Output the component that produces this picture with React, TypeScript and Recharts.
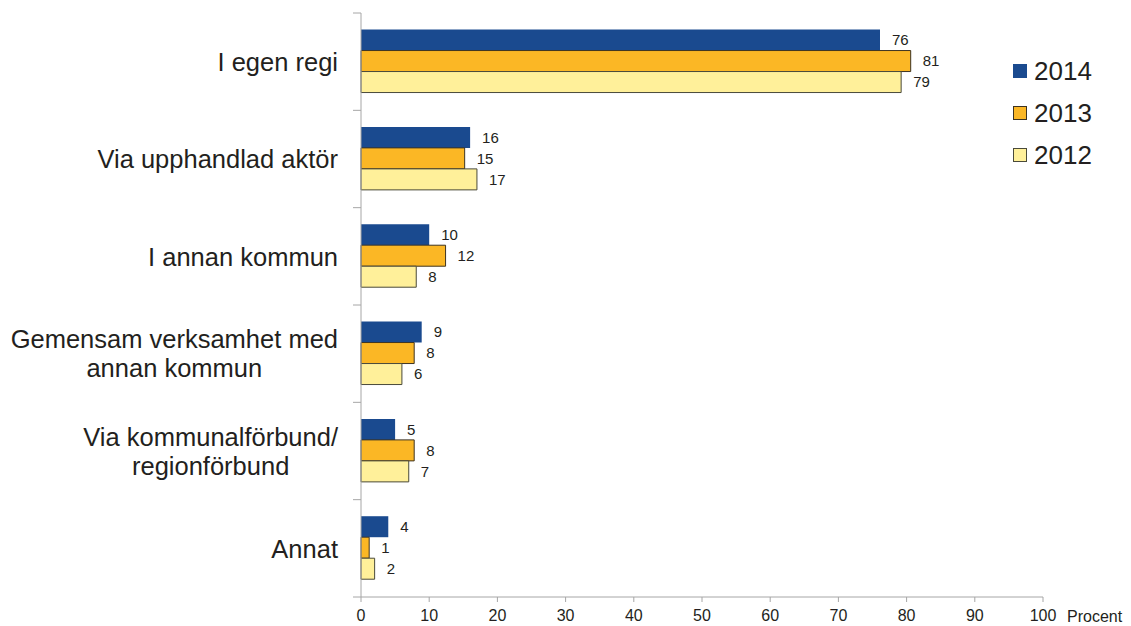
import React from "react";
import { BarChart, Bar, XAxis, YAxis, LabelList } from "recharts";

const categories = [
  "I egen regi",
  "Via upphandlad aktör",
  "I annan kommun",
  "Gemensam verksamhet med\nannan kommun",
  "Via kommunalförbund/\nregionförbund",
  "Annat",
];

const values2014 = [76.1, 16.0, 10.0, 8.9, 5.0, 4.0];
const values2013 = [80.6, 15.2, 12.4, 7.8, 7.8, 1.2];
const values2012 = [79.2, 17.0, 8.1, 6.0, 7.0, 2.0];

const xTicks = [0, 10, 20, 30, 40, 50, 60, 70, 80, 90, 100];

const series = [
  { key: "y2014", name: "2014", fill: "#1a4a8f", stroke: "none" },
  { key: "y2013", name: "2013", fill: "#fbb725", stroke: "#3d3320" },
  { key: "y2012", name: "2012", fill: "#fff09a", stroke: "#4a4a3a" },
];

const data = categories.map((name, i) => ({
  name,
  y2014: values2014[i],
  y2013: values2013[i],
  y2012: values2012[i],
}));

const W = 1115;
const H = 618;
const TOP = 5;
const PLOT_BOTTOM = 589;
const AXIS_X = 353;
const BAND = (PLOT_BOTTOM - TOP) / categories.length;
const AXIS_COLOR = "#a6a6a6";
const TEXT = "#231f20";
const FONT = '"Liberation Sans", Arial, sans-serif';
const CAT_SIZE = 25.5;
const LINE_H = 29;

let ctx: CanvasRenderingContext2D | null = null;
function measure(s: string) {
  if (!ctx) ctx = document.createElement("canvas").getContext("2d");
  if (!ctx) return s.length * CAT_SIZE * 0.5;
  ctx.font = `${CAT_SIZE}px ${FONT}`;
  return ctx.measureText(s).width;
}

function CategoryTick(props: any) {
  const { x, y, payload, index } = props;
  const lines = String(payload.value).split("\n");
  const maxW = Math.max(...lines.map(measure));
  const cx = x - 23 - maxW / 2;
  const first = -((lines.length - 1) * LINE_H) / 2;
  return (
    <g>
      <line x1={x - 8} x2={x} y1={y - BAND / 2} y2={y - BAND / 2} stroke={AXIS_COLOR} />
      {index === categories.length - 1 && (
        <line x1={x - 8} x2={x} y1={y + BAND / 2} y2={y + BAND / 2} stroke={AXIS_COLOR} />
      )}
      <text
        x={cx}
        y={y}
        textAnchor="middle"
        fill={TEXT}
        fontSize={CAT_SIZE}
        fontFamily={FONT}
      >
        {lines.map((l, i) => (
          <tspan key={i} x={cx} y={y + first + i * LINE_H} dy="0.36em">
            {l}
          </tspan>
        ))}
      </text>
    </g>
  );
}

export default function App() {
  return (
    <div style={{ position: "relative", width: W, height: H, fontFamily: FONT }}>
      <BarChart
        width={W}
        height={H}
        data={data}
        layout="vertical"
        margin={{ top: TOP, right: 80, left: 0, bottom: 0 }}
        barCategoryGap="17%"
        barGap={0}
      >
        <XAxis
          type="number"
          domain={[0, 100]}
          ticks={xTicks}
          interval={0}
          height={H - PLOT_BOTTOM}
          axisLine={{ stroke: AXIS_COLOR }}
          tickLine={{ stroke: AXIS_COLOR }}
          tickSize={5}
          tickMargin={8}
          tick={{ fill: TEXT, fontSize: 16, fontFamily: FONT }}
        />
        <YAxis
          type="category"
          dataKey="name"
          width={AXIS_X}
          axisLine={{ stroke: AXIS_COLOR }}
          tickLine={false}
          tickSize={0}
          tickMargin={0}
          interval={0}
          tick={<CategoryTick />}
        />
        {series.map((s) => (
          <Bar
            key={s.key}
            dataKey={s.key}
            name={s.name}
            fill={s.fill}
            stroke={s.stroke}
            strokeWidth={1}
            isAnimationActive={false}
          >
            <LabelList
              dataKey={s.key}
              position="right"
              offset={12}
              formatter={(v: any) => Math.round(Number(v))}
              style={{ fill: TEXT, fontSize: 15, fontFamily: FONT }}
            />
          </Bar>
        ))}
      </BarChart>
      <div
        style={{
          position: "absolute",
          left: 1059,
          top: 600,
          fontSize: 16,
          color: TEXT,
          lineHeight: "18px",
        }}
      >
        Procent
      </div>
      <div style={{ position: "absolute", left: 1005, top: 42 }}>
        {series.map((s) => (
          <div
            key={s.key}
            style={{ display: "flex", alignItems: "center", height: 42 }}
          >
            <span
              style={{
                display: "inline-block",
                width: s.stroke === "none" ? 14 : 12,
                height: s.stroke === "none" ? 14 : 12,
                background: s.fill,
                border: s.stroke === "none" ? "none" : `1px solid ${s.stroke}`,
                marginRight: 7,
              }}
            />
            <span style={{ fontSize: 26, color: TEXT, lineHeight: "26px" }}>
              {s.name}
            </span>
          </div>
        ))}
      </div>
    </div>
  );
}
